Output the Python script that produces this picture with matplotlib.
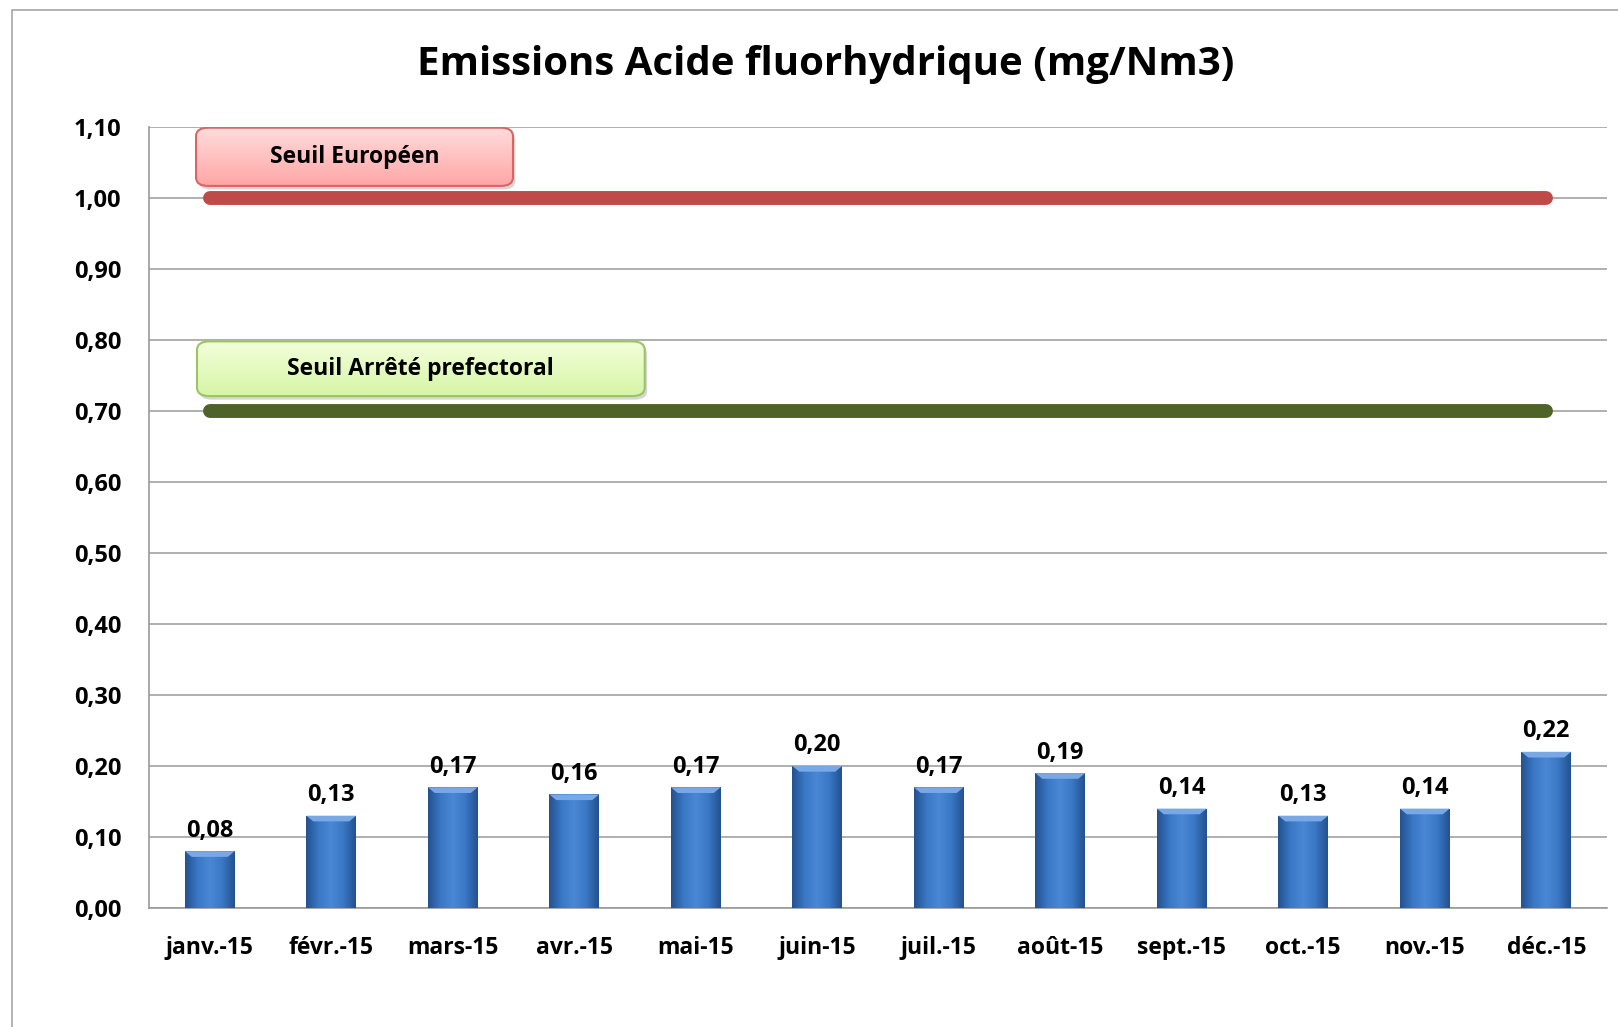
import numpy as np
import matplotlib.pyplot as plt
from matplotlib.patches import FancyBboxPatch, Rectangle
from matplotlib.colors import LinearSegmentedColormap

months = ["janv.-15", "févr.-15", "mars-15", "avr.-15", "mai-15", "juin-15",
          "juil.-15", "août-15", "sept.-15", "oct.-15", "nov.-15", "déc.-15"]
values = [0.08, 0.13, 0.17, 0.16, 0.17, 0.20, 0.17, 0.19, 0.14, 0.13, 0.14, 0.22]
seuil_europeen = 1.00
seuil_prefectoral = 0.70
yticks = [0.0, 0.1, 0.2, 0.3, 0.4, 0.5, 0.6, 0.7, 0.8, 0.9, 1.0, 1.1]

plt.rcParams['font.family'] = ['Open Sans', 'DejaVu Sans']

fig = plt.figure(figsize=(16.18, 10.27), dpi=100)
fig.patch.set_facecolor("white")

# outer chart frame
fig.add_artist(Rectangle((12 / 1618, -0.01), 1.2, 1 - 10 / 1027 + 0.01,
                         transform=fig.transFigure, fill=False,
                         edgecolor="#A6A6A6", lw=1.2))

ax = fig.add_axes([149 / 1618, 1 - 908 / 1027, 1458 / 1618, 781 / 1027])
x = np.arange(len(months))

ax.set_yticks(yticks)
ax.set_yticklabels([("%.2f" % v).replace(".", ",") for v in yticks],
                   fontsize=17, fontweight="bold")
ax.set_xticks(x)
ax.set_xticklabels(months, fontsize=16.5, fontweight="bold")
ax.tick_params(axis="y", length=0, pad=20)
ax.tick_params(axis="x", length=0, pad=20)
ax.grid(axis="y", color="#9A9A9A", lw=1.1)
ax.set_axisbelow(True)
for s in ["top", "right"]:
    ax.spines[s].set_visible(False)
for s in ["left", "bottom"]:
    ax.spines[s].set_color("#9A9A9A")
    ax.spines[s].set_linewidth(1.2)

# bars with a bevelled blue gradient
bw = 0.41
bars = ax.bar(x, values, width=bw, color="#3B74C0", zorder=3)
shade = LinearSegmentedColormap.from_list(
    "bevel", ["#24528F", "#3A78C6", "#4A88D6", "#3A78C6", "#24528F"])
grad = np.linspace(0, 1, 64).reshape(1, -1)
for b, v in zip(bars, values):
    x0 = b.get_x()
    im = ax.imshow(grad, cmap=shade, aspect="auto", zorder=3,
                   extent=[x0, x0 + bw, 0, v], interpolation="bicubic")
    im.set_clip_path(b)
    # lighter top bevel
    ax.fill([x0, x0 + bw, x0 + bw * 0.86, x0 + bw * 0.14],
            [v, v, v - 0.008, v - 0.008], color="#78A8E6", zorder=4, lw=0)
    ax.text(b.get_x() + bw / 2, v + 0.012, ("%.2f" % v).replace(".", ","),
            ha="center", va="bottom", fontsize=17, fontweight="bold", zorder=5)

# threshold lines
ax.plot([x[0], x[-1]], [seuil_europeen] * 2, color="#BE4B48", lw=10,
        solid_capstyle="round", zorder=4)
ax.plot([x[0], x[-1]], [seuil_prefectoral] * 2, color="#4F6228", lw=10,
        solid_capstyle="round", zorder=4)


def label_box(x0, x1, y0, y1, text, top, bottom, edge):
    # rounded label with soft shadow and vertical gradient
    w, h = x1 - x0, y1 - y0
    style = "round,pad=0,rounding_size=0.1"
    sh = FancyBboxPatch((x0 + 0.02, y0 - 0.005), w, h, boxstyle=style,
                        mutation_aspect=0.12, facecolor="#BBBBBB",
                        edgecolor="none", alpha=0.6, zorder=5)
    ax.add_patch(sh)
    box = FancyBboxPatch((x0, y0), w, h, boxstyle=style,
                         mutation_aspect=0.12, facecolor=top,
                         edgecolor="none", zorder=6)
    ax.add_patch(box)
    cm = LinearSegmentedColormap.from_list("g", [bottom, top])
    im = ax.imshow(np.linspace(0, 1, 64).reshape(-1, 1), cmap=cm,
                   aspect="auto", origin="lower", zorder=6,
                   extent=[x0, x1, y0, y1])
    im.set_clip_path(box)
    ax.add_patch(FancyBboxPatch((x0, y0), w, h, boxstyle=style,
                                mutation_aspect=0.12, facecolor="none",
                                edgecolor=edge, lw=1.5, zorder=7))
    ax.text((x0 + x1) / 2, (y0 + y1) / 2, text, ha="center", va="center",
            fontsize=16.5, fontweight="bold", zorder=8)


label_box(-0.113, 2.496, 1.017, 1.099, "Seuil Européen",
          "#FFDCDC", "#FFA6A6", "#D96666")
label_box(-0.105, 3.58, 0.721, 0.798, "Seuil Arrêté prefectoral",
          "#F3FFDB", "#D6F5A6", "#9CC466")

ax.set_xlim(-0.5, len(months) - 0.5)
ax.set_ylim(0, 1.1)

fig.text(826 / 1618, 1 - 64 / 1027, "Emissions Acide fluorhydrique (mg/Nm3)",
         ha="center", va="center", fontsize=29, fontweight="bold")

fig.savefig("out.png", dpi=100)
